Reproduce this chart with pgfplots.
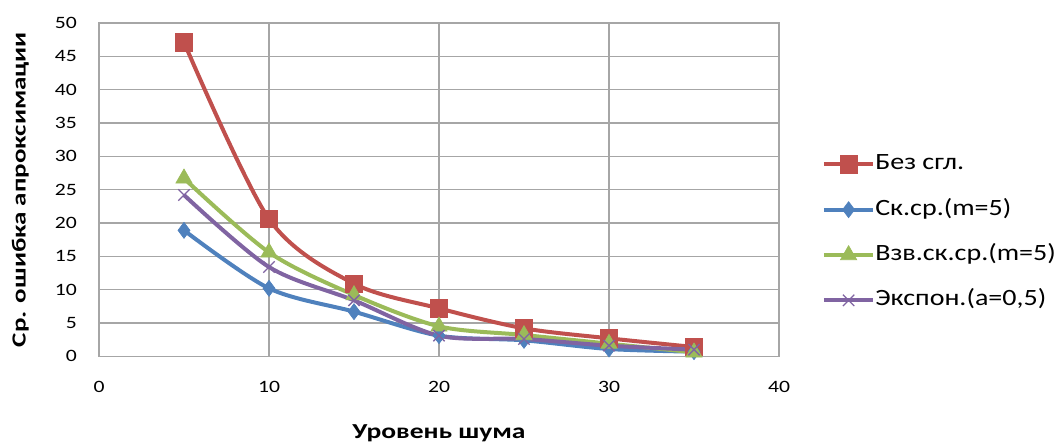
\documentclass[border=0pt]{standalone}
\usepackage{fontspec}
\setmainfont{Carlito}
\newfontfamily\tickfont[FakeStretch=1.25]{Carlito}
\newfontfamily\legfont[FakeStretch=1.2]{Carlito}
\newfontfamily\xlabfont[FakeStretch=1.29]{Carlito}
\newfontfamily\ylabfont[FakeStretch=1.35]{Carlito}
\usepackage{pgfplots}
\pgfplotsset{compat=1.18}

\definecolor{cred}{HTML}{C0504D}
\definecolor{cblue}{HTML}{4F81BD}
\definecolor{cgreen}{HTML}{9BBB59}
\definecolor{cpurple}{HTML}{8064A2}
\definecolor{cgrid}{HTML}{A6A6A6}

\begin{document}
\begin{tikzpicture}
\useasboundingbox (-74.25pt,-68.25pt) rectangle (723pt,267.25pt);
\begin{axis}[
  scale only axis,
  width=510pt, height=250pt,
  xmin=0, xmax=40, ymin=0, ymax=50,
  xtick={0,10,20,30,40},
  ytick={0,5,...,50},
  grid=major,
  major grid style={cgrid, line width=1pt},
  axis line style={cgrid, line width=1pt},
  major tick length=0pt,
  tick label style={font=\tickfont\fontsize{13}{15}\selectfont, black},
  /pgf/number format/assume math mode=true,
  xticklabel style={yshift=-15pt},
  yticklabel style={xshift=-13pt},
  xlabel={\xlabfont\bfseries\fontsize{16}{18}\selectfont Уровень шума},
  ylabel={\ylabfont\bfseries\fontsize{15}{17}\selectfont Ср. ошибка апроксимации},
  xlabel style={at={(axis description cs:0.5,0)}, anchor=center, yshift=-58pt},
  ylabel style={at={(axis description cs:0,0.5)}, anchor=center, yshift=59pt},
  legend style={draw=none, fill=none, inner sep=0pt,
    at={(axis description cs:1,0.372)}, xshift=32pt, anchor=west,
    font=\legfont\fontsize{17.5}{19}\selectfont, row sep=18pt,
    nodes={inner sep=0pt, text height=12pt, text depth=4pt},
    /tikz/every even column/.append style={column sep=6pt}},
  legend cell align=left,
  legend image code/.code={
    \draw[mark repeat=2, mark phase=2] plot coordinates {(0pt,0pt) (18.5pt,0pt) (37pt,0pt)};
  },
  every axis plot/.append style={line width=3pt, smooth, tension=0.5},
]
\addplot[cred, mark=square*, mark size=6.5pt, mark options={solid, line width=0.5pt}]
  coordinates {(5,47.1) (10,20.6) (15,10.9) (20,7.2) (25,4.2) (30,2.7) (35,1.4)};
\addlegendentry{Без сгл.}
\addplot[cblue, mark=diamond*, mark size=6pt, mark options={solid, line width=0.5pt}]
  coordinates {(5,18.9) (10,10.2) (15,6.7) (20,3.1) (25,2.4) (30,1.1) (35,0.7)};
\addlegendentry{Ск.ср.(m=5)}
\addplot[cgreen, mark=triangle*, mark size=7pt, mark options={solid, line width=0.5pt}]
  coordinates {(5,26.7) (10,15.6) (15,9.2) (20,4.5) (25,3.2) (30,1.9) (35,0.6)};
\addlegendentry{Взв.ск.ср.(m=5)}
\addplot[cpurple, mark=x, mark size=6pt, mark options={solid, line width=1pt}]
  coordinates {(5,24.2) (10,13.4) (15,8.4) (20,3.1) (25,2.6) (30,1.6) (35,1.0)};
\addlegendentry{Экспон.(a=0,5)}
\end{axis}
\end{tikzpicture}
\end{document}
